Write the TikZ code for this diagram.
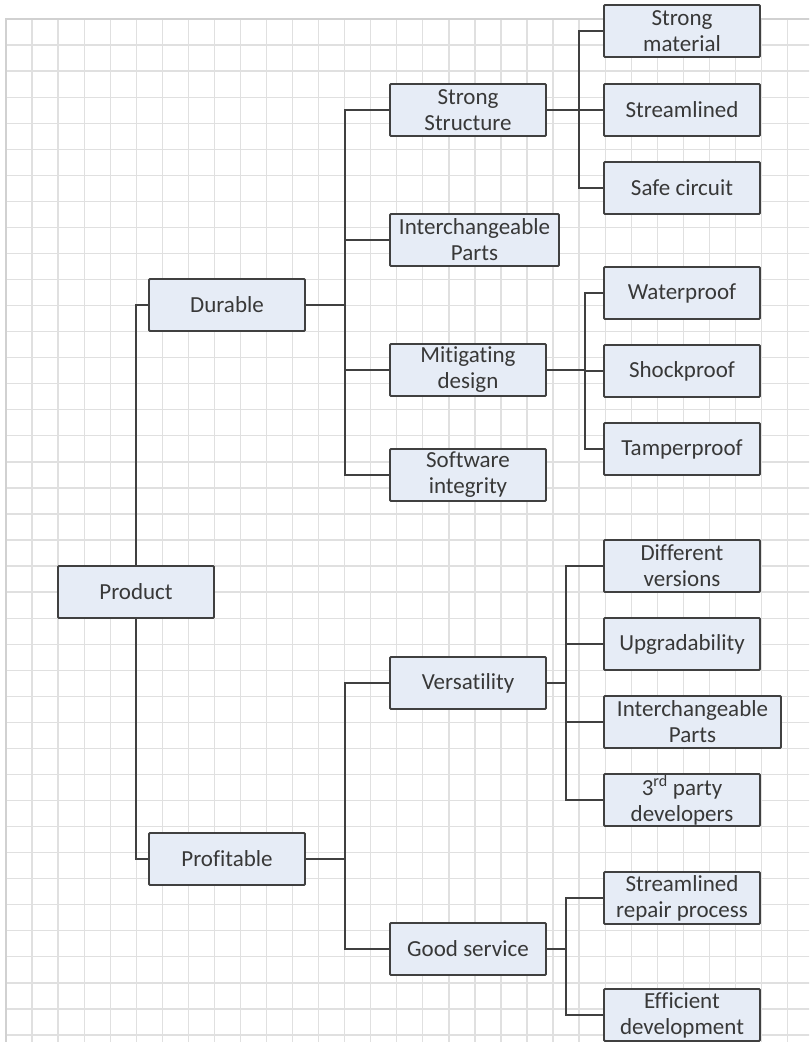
\documentclass[tikz,border=0pt]{standalone}
\usepackage{fontspec}
\setmainfont{Carlito}[Ligatures=NoCommon]
\begin{document}
\begin{tikzpicture}[x=1pt,y=-1pt,
  gridline/.style={draw=black!12,line width=1.3pt},
  box/.style={draw=black!75,line width=1.8pt,fill={rgb,255:red,230;green,236;blue,246},
    rounded corners=1pt,minimum width=156pt,minimum height=52pt,inner sep=0pt,
    align=center,text=black!78,font=\fontsize{23}{26}\selectfont},
  link/.style={draw=black!75,line width=1.8pt}]
\useasboundingbox (0,0) rectangle (809,1042);
\clip (0,0) rectangle (809,1042);
% grid
\foreach \i in {0,...,31} \draw[gridline] (6+26.05*\i,19) -- (6+26.05*\i,1050);
\foreach \j in {0,...,39} \draw[gridline] (6,19+26.05*\j) -- (820,19+26.05*\j);
\draw[draw=black!18,line width=2.5pt] (6,1050) -- (6,19) -- (820,19);
% nodes
\node[box] (P) at (136,592) {Product};
\node[box] (D) at (227,305) {Durable};
\node[box] (Pr) at (227,859) {Profitable};
\node[box] (SS) at (468,110) {Strong\\Structure};
\node[box,minimum width=169pt] (IP) at (474.5,240) {Interchangeable\\Parts};
\node[box] (MD) at (468,370) {Mitigating\\design};
\node[box] (SI) at (468,475) {Software\\integrity};
\node[box] (SM) at (682,31) {Strong\\material};
\node[box] (SL) at (682,110) {Streamlined};
\node[box] (SC) at (682,188) {Safe circuit};
\node[box] (WP) at (682,293) {Waterproof};
\node[box] (SP) at (682,371) {Shockproof};
\node[box] (TP) at (682,449) {Tamperproof};
\node[box] (V) at (468,683) {Versatility};
\node[box] (GS) at (468,949) {Good service};
\node[box] (DV) at (682,566) {Different\\versions};
\node[box] (UG) at (682,644) {Upgradability};
\node[box,minimum width=177pt] (IP2) at (692.5,722) {Interchangeable\\Parts};
\node[box] (TD) at (682,800) {3\textsuperscript{rd} party\\developers};
\node[box] (SR) at (682,898) {Streamlined\\repair process};
\node[box] (ED) at (682,1015) {Efficient\\development};
% trunk coordinates
\coordinate (t1) at (345,0);
\coordinate (t2) at (579,0);
\coordinate (t3) at (585,0);
\coordinate (t4) at (566,0);
% connectors
\draw[link] (P.north) |- (D.west);
\draw[link] (P.south) |- (Pr.west);
\foreach \c in {SS,IP,MD,SI} \draw[link] (D.east) -- (D.east -| t1) |- (\c.west);
\foreach \c in {SM,SL,SC} \draw[link] (SS.east) -- (SS.east -| t2) |- (\c.west);
\foreach \c in {WP,SP,TP} \draw[link] (MD.east) -- (MD.east -| t3) |- (\c.west);
\foreach \c in {V,GS} \draw[link] (Pr.east) -- (Pr.east -| t1) |- (\c.west);
\foreach \c in {DV,UG,IP2,TD} \draw[link] (V.east) -- (V.east -| t4) |- (\c.west);
\foreach \c in {SR,ED} \draw[link] (GS.east) -- (GS.east -| t4) |- (\c.west);
\end{tikzpicture}
\end{document}
